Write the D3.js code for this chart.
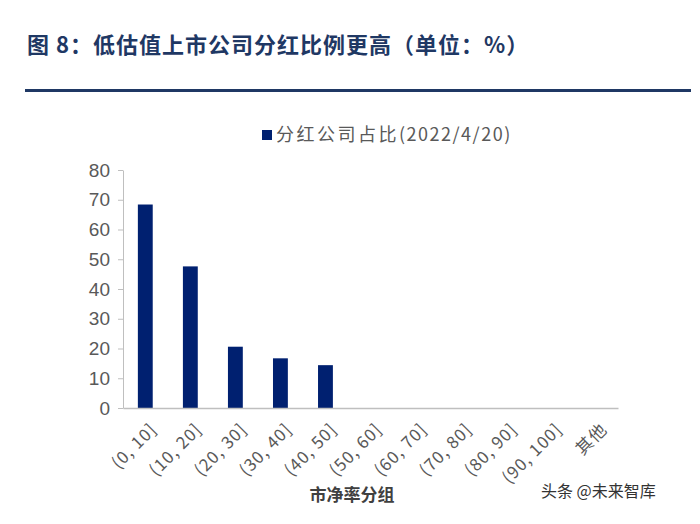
<!DOCTYPE html>
<html>
<head>
<meta charset="utf-8">
<script src="https://cdn.jsdelivr.net/npm/d3@7"></script>
<style>
  body { margin: 0; background: #fff; }
  svg { display: block; }
</style>
</head>
<body>
<div id="vis"></div>
<script>
// data
const categories = ['(0, 10]', '(10, 20]', '(20, 30]', '(30, 40]', '(40, 50]', '(50, 60]', '(60, 70]', '(70, 80]', '(80, 90]', '(90, 100]', '其他'];
const share = [68.4, 47.6, 20.6, 16.7, 14.4, 0, 0, 0, 0, 0, 0];
const yTicks = [0, 10, 20, 30, 40, 50, 60, 70, 80];
const seriesLabel = '分红公司占比';
const seriesDate = '(2022/4/20)';

const width = 700;
const height = 524;
const margin = {left: 123, right: 82, top: 170, bottom: 116};
const cjk = '"Noto Sans CJK SC", "Noto Sans", sans-serif';

const svg = d3.select('#vis').append('svg')
    .attr('width', width)
    .attr('height', height);

// title + rule
svg.append('text')
    .attr('x', 27).attr('y', 53)
    .attr('font-family', cjk)
    .attr('font-weight', 'bold')
    .attr('font-size', 22)
    .attr('letter-spacing', 1)
    .attr('fill', '#1f3864')
    .text('图 8：低估值上市公司分红比例更高（单位：%）');

svg.append('rect')
    .attr('x', 25).attr('y', 89)
    .attr('width', 666).attr('height', 3)
    .attr('fill', '#1f3864');

const x = d3.scaleBand()
    .domain(categories)
    .range([margin.left, width - margin.right])
    .paddingInner(0.67)
    .paddingOuter(0.33);

const y = d3.scaleLinear()
    .domain([0, 80])
    .range([height - margin.bottom, margin.top]);

// y axis
const yAxis = svg.append('g')
    .attr('transform', `translate(${margin.left},0)`)
    .call(d3.axisLeft(y).tickValues(yTicks).tickSize(5).tickPadding(8).tickSizeOuter(0));
yAxis.select('.domain').attr('stroke', '#bfbfbf');
yAxis.selectAll('.tick line').attr('stroke', '#bfbfbf');
yAxis.selectAll('.tick text')
    .attr('font-family', 'Arial, "Liberation Sans", sans-serif')
    .attr('font-size', 19)
    .attr('fill', '#595959');

// bars
svg.append('g')
    .selectAll('rect')
    .data(share)
    .join('rect')
    .attr('x', (d, i) => x(categories[i]))
    .attr('y', d => y(d))
    .attr('width', x.bandwidth())
    .attr('height', d => y(0) - y(d))
    .attr('fill', '#002070');

// x axis
const xAxis = svg.append('g')
    .attr('transform', `translate(0,${y(0)})`)
    .call(d3.axisBottom(x).tickSize(0).tickSizeOuter(0));
xAxis.select('.domain').attr('stroke', '#bfbfbf').attr('stroke-width', 1.5);
xAxis.selectAll('.tick text')
    .attr('font-family', cjk)
    .attr('font-size', 17)
    .attr('letter-spacing', 1)
    .attr('fill', '#595959')
    .attr('text-anchor', 'end')
    .attr('transform', 'translate(2,12) rotate(-45)')
    .attr('dy', '0.7em');

// axis title
svg.append('text')
    .attr('x', 352).attr('y', 501)
    .attr('text-anchor', 'middle')
    .attr('font-family', cjk)
    .attr('font-weight', 'bold')
    .attr('font-size', 17)
    .attr('fill', '#404040')
    .text('市净率分组');

// legend
const legend = svg.append('g').attr('transform', 'translate(262,135)');
legend.append('rect')
    .attr('x', 0).attr('y', -5)
    .attr('width', 10).attr('height', 10)
    .attr('fill', '#002070');
const lt = legend.append('text')
    .attr('x', 14).attr('y', 0)
    .attr('dy', '0.35em')
    .attr('font-family', cjk)
    .attr('font-size', 18)
    .attr('fill', '#595959');
lt.append('tspan').attr('letter-spacing', 2.5).text(seriesLabel);
lt.append('tspan').attr('letter-spacing', 1.5).text(seriesDate);

// watermark
svg.append('text')
    .attr('x', 541).attr('y', 497)
    .attr('font-family', cjk)
    .attr('font-size', 16)
    .attr('fill', '#333')
    .text('头条 @未来智库');
</script>
</body>
</html>
